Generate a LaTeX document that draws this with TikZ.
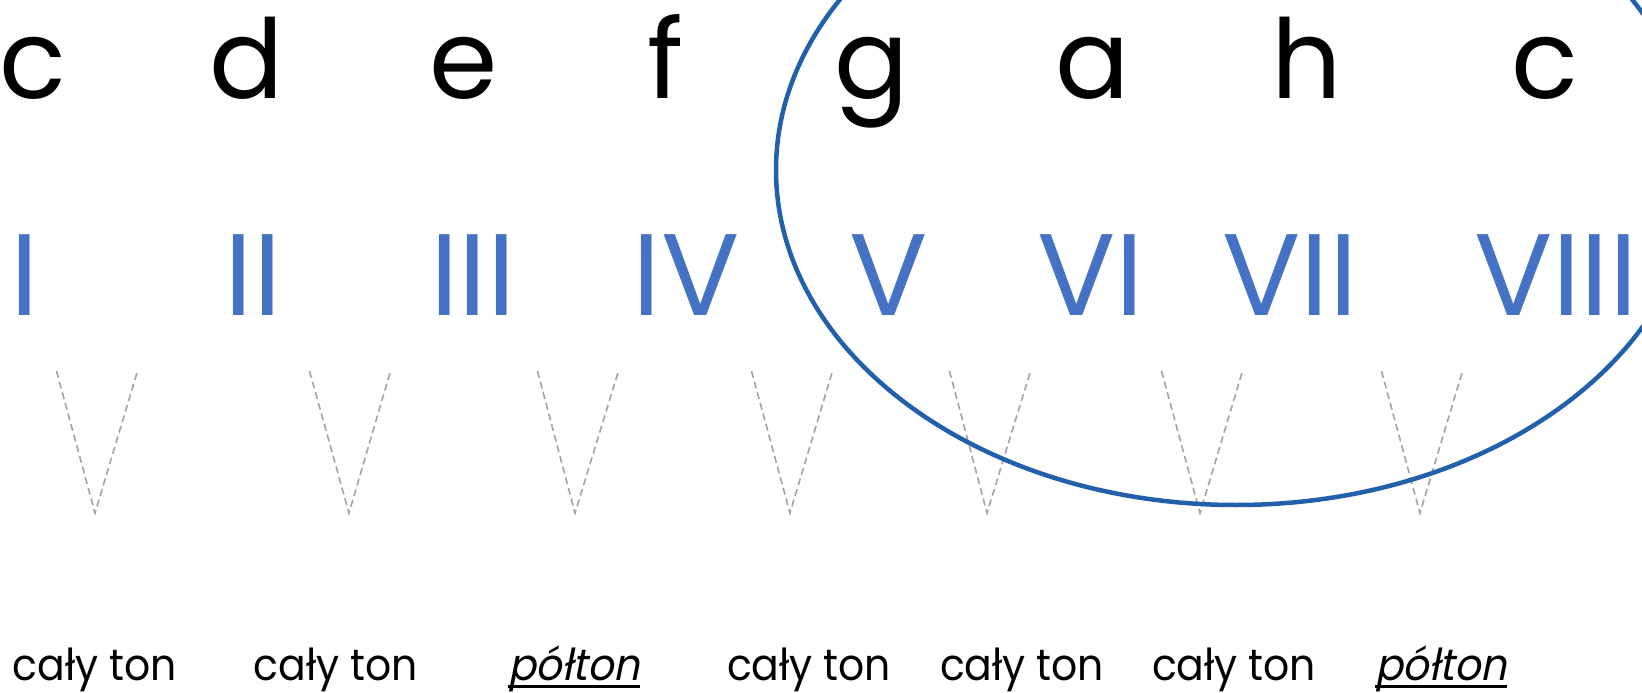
\documentclass[tikz,border=0pt]{standalone}
\usepackage{fontspec}
\setmainfont{Poppins}
\newfontfamily\condfont[FakeStretch=0.93]{Poppins}
\newfontfamily\condital[FakeStretch=0.93,FakeSlant=0.2]{Poppins}
\definecolor{numblue}{HTML}{4472C4}
\definecolor{ringblue}{HTML}{2260AB}
\definecolor{dashgray}{HTML}{A3A3A3}
\begin{document}
\begin{tikzpicture}[x=1pt,y=-1pt,
  note/.style={anchor=base, inner sep=0pt, font=\fontsize{110}{110}\selectfont, text=black},
  degree/.style={anchor=base, inner sep=0pt, font=\fontsize{116}{116}\selectfont, text=numblue},
  steplabel/.style={anchor=base, inner sep=0pt, font=\condfont\fontsize{44}{44}\selectfont, text=black},
  halflabel/.style={anchor=base, inner sep=0pt, font=\condital\fontsize{44}{44}\selectfont, text=black},
  vmark/.style={draw=dashgray, line width=1.6pt, dash pattern=on 7pt off 4pt},
  ring/.style={draw=ringblue, line width=4.5pt}
]
\useasboundingbox (0,0) rectangle (1642,693);
\clip (0,0) rectangle (1642,693);
\fill[white] (0,0) rectangle (1642,693);

% note names
\node[note] (n1) at (33,99) {c};
\node[note] (n2) at (247,99) {d};
\node[note] (n3) at (464,99) {e};
\node[note] (n4) at (666,99) {f};
\node[note] (n5) at (872,99) {g};
\node[note] (n6) at (1093,99) {a};
\node[note] (n7) at (1307,99) {h};
\node[note] (n8) at (1545,99) {c};

% degrees
\node[degree] (r1) at (25,315) {I};
\node[degree] (r2) at (253,315) {II};
\node[degree] (r3) at (473,315) {III};
\node[degree] (r4) at (686,315) {IV};
\node[degree] (r5) at (889,315) {V};
\node[degree] (r6) at (1091,315) {VI};
\node[degree] (r7) at (1290,315) {VII};
\node[degree] (r8) at (1556,315) {VIII};

% dashed V marks
\foreach \cx/\bx [count=\i] in {97/95, 350/349, 578/575, 792/790, 990/987, 1202/1200, 1422/1420}{
  \coordinate (vl\i) at (\cx-40.5,371);
  \coordinate (vr\i) at (\cx+40.5,371);
  \coordinate (vb\i) at (\bx,513);
  \draw[vmark] (vl\i) -- (vb\i) -- (vr\i);
}

% interval labels
\node[steplabel] (s1) at (95,680) {cały ton};
\node[steplabel] (s2) at (336,680) {cały ton};
\node[halflabel] (s3) at (574,680) {półton};
\node[steplabel] (s4) at (809,680) {cały ton};
\node[steplabel] (s5) at (1022,680) {cały ton};
\node[steplabel] (s6) at (1234,680) {cały ton};
\node[halflabel] (s7) at (1441,680) {półton};
\draw[line width=3pt] ([yshift=-6pt]s3.base west) -- ([yshift=-6pt]s3.base east);
\draw[line width=3pt] ([yshift=-6pt]s7.base west) -- ([yshift=-6pt]s7.base east);

% ring round the upper tetrachord
\draw[ring] (1236,170) ellipse [x radius=460, y radius=335];
\end{tikzpicture}
\end{document}
